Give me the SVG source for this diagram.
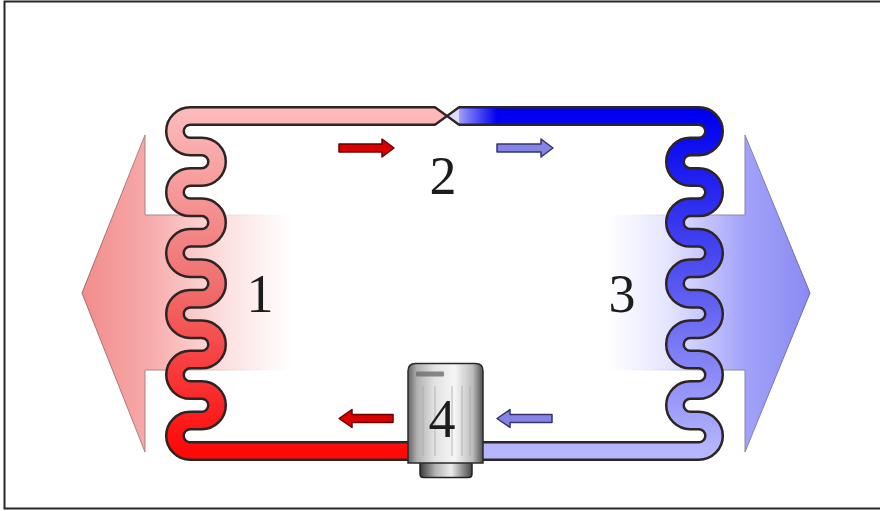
<svg xmlns="http://www.w3.org/2000/svg" width="880" height="511" viewBox="0 0 880 511">
  <defs>
    <!-- heat flow arrows -->
    <linearGradient id="heatOut" gradientUnits="userSpaceOnUse" x1="82" y1="0" x2="292" y2="0">
      <stop offset="0" stop-color="#f28c8c"/>
      <stop offset="0.3" stop-color="#f7a8a8"/>
      <stop offset="0.7" stop-color="#fde2e2"/>
      <stop offset="1" stop-color="#ffffff"/>
    </linearGradient>
    <linearGradient id="heatOutEdge" gradientUnits="userSpaceOnUse" x1="82" y1="0" x2="292" y2="0">
      <stop offset="0" stop-color="#a06a6a"/>
      <stop offset="0.45" stop-color="#b08f8f"/>
      <stop offset="1" stop-color="#ffffff" stop-opacity="0"/>
    </linearGradient>
    <linearGradient id="heatIn" gradientUnits="userSpaceOnUse" x1="608" y1="0" x2="810" y2="0">
      <stop offset="0" stop-color="#ffffff"/>
      <stop offset="0.3" stop-color="#e4e4ff"/>
      <stop offset="0.68" stop-color="#a2a2fa"/>
      <stop offset="1" stop-color="#8a8af2"/>
    </linearGradient>
    <linearGradient id="heatInEdge" gradientUnits="userSpaceOnUse" x1="608" y1="0" x2="810" y2="0">
      <stop offset="0" stop-color="#ffffff" stop-opacity="0"/>
      <stop offset="0.55" stop-color="#8f8fb0"/>
      <stop offset="1" stop-color="#6a6aa0"/>
    </linearGradient>
    <!-- refrigerant temperature along the pipes -->
    <linearGradient id="hotPipe" gradientUnits="userSpaceOnUse" x1="0" y1="116" x2="0" y2="451">
      <stop offset="0" stop-color="#fbb9b9"/>
      <stop offset="0.5" stop-color="#f07070"/>
      <stop offset="1" stop-color="#ff0808"/>
    </linearGradient>
    <linearGradient id="coldPipe" gradientUnits="userSpaceOnUse" x1="0" y1="116" x2="0" y2="451">
      <stop offset="0" stop-color="#0000f0"/>
      <stop offset="0.5" stop-color="#5656f0"/>
      <stop offset="1" stop-color="#b6b6ff"/>
    </linearGradient>
    <linearGradient id="valveOut" gradientUnits="userSpaceOnUse" x1="447" y1="0" x2="497" y2="0">
      <stop offset="0" stop-color="#dcdcff"/>
      <stop offset="0.4" stop-color="#7a7af6"/>
      <stop offset="1" stop-color="#0000f0"/>
    </linearGradient>
    <!-- compressor metal -->
    <linearGradient id="metal" x1="0" y1="0" x2="1" y2="0">
      <stop offset="0" stop-color="#626262"/>
      <stop offset="0.12" stop-color="#b0b0b0"/>
      <stop offset="0.35" stop-color="#e2e2e2"/>
      <stop offset="0.62" stop-color="#f6f6f6"/>
      <stop offset="0.86" stop-color="#bdbdbd"/>
      <stop offset="1" stop-color="#505050"/>
    </linearGradient>
    <linearGradient id="metalDark" x1="0" y1="0" x2="1" y2="0">
      <stop offset="0" stop-color="#3c3c3c"/>
      <stop offset="0.3" stop-color="#b4b4b4"/>
      <stop offset="0.6" stop-color="#ececec"/>
      <stop offset="1" stop-color="#444444"/>
    </linearGradient>
    <style>
      .edge { fill: none; stroke: #2e2424; stroke-width: 20; stroke-linejoin: round; }
      .hot { fill: none; stroke: url(#hotPipe); stroke-width: 15; stroke-linejoin: round; }
      .cold { fill: none; stroke: url(#coldPipe); stroke-width: 15; stroke-linejoin: round; }
      .flowHot { fill: #d80000; stroke: #6a0000; stroke-width: 1.5; stroke-linejoin: round; }
      .flowCold { fill: #8484e6; stroke: #34346a; stroke-width: 1.5; stroke-linejoin: round; }
      .num { font-family: "Liberation Serif", "DejaVu Serif", serif; font-size: 54px; fill: #1c1c1c; text-anchor: middle; }
    </style>
  </defs>

  <rect x="0" y="0" width="880" height="511" fill="#ffffff"/>
  <rect x="4.5" y="1.5" width="890" height="507" fill="none" stroke="#262626" stroke-width="2"/>

  <!-- heat released by the condenser -->
  <g id="heat-out">
    <polygon points="292,215 145,215 145,135 82,293 145,452 145,370 292,370" fill="url(#heatOut)" stroke="url(#heatOutEdge)" stroke-width="1"/>
  </g>
  <!-- heat absorbed by the evaporator -->
  <g id="heat-in">
    <polygon points="608,215 745,215 745,135 810,293 745,452 745,370 608,370" fill="url(#heatIn)" stroke="url(#heatInEdge)" stroke-width="1"/>
  </g>

  <!-- refrigerant circuit -->
  <g id="connectors">
    <!-- hot side: valve inlet, condenser coil, compressor outlet -->
    <path class="edge" d="M 436 116 H 190.2
      A 15.225 15.225 0 0 0 190.2 146.45 H 201.8
      A 15.225 15.225 0 0 1 201.8 176.9 H 190.2
      A 15.225 15.225 0 0 0 190.2 207.35 H 201.8
      A 15.225 15.225 0 0 1 201.8 237.8 H 190.2
      A 15.225 15.225 0 0 0 190.2 268.25 H 201.8
      A 15.225 15.225 0 0 1 201.8 298.7 H 190.2
      A 15.225 15.225 0 0 0 190.2 329.15 H 201.8
      A 15.225 15.225 0 0 1 201.8 359.6 H 190.2
      A 15.225 15.225 0 0 0 190.2 390.05 H 201.8
      A 15.225 15.225 0 0 1 201.8 420.5 H 190.2
      A 15.225 15.225 0 0 0 190.2 451 H 414"/>
    <path class="hot" d="M 436 116 H 190.2
      A 15.225 15.225 0 0 0 190.2 146.45 H 201.8
      A 15.225 15.225 0 0 1 201.8 176.9 H 190.2
      A 15.225 15.225 0 0 0 190.2 207.35 H 201.8
      A 15.225 15.225 0 0 1 201.8 237.8 H 190.2
      A 15.225 15.225 0 0 0 190.2 268.25 H 201.8
      A 15.225 15.225 0 0 1 201.8 298.7 H 190.2
      A 15.225 15.225 0 0 0 190.2 329.15 H 201.8
      A 15.225 15.225 0 0 1 201.8 359.6 H 190.2
      A 15.225 15.225 0 0 0 190.2 390.05 H 201.8
      A 15.225 15.225 0 0 1 201.8 420.5 H 190.2
      A 15.225 15.225 0 0 0 190.2 451 H 414"/>

    <!-- cold side: valve outlet, evaporator coil, compressor inlet -->
    <path class="edge" d="M 458 116 H 698.8
      A 15.225 15.225 0 0 1 698.8 146.45 H 690.2
      A 15.225 15.225 0 0 0 690.2 176.9 H 698.8
      A 15.225 15.225 0 0 1 698.8 207.35 H 690.2
      A 15.225 15.225 0 0 0 690.2 237.8 H 698.8
      A 15.225 15.225 0 0 1 698.8 268.25 H 690.2
      A 15.225 15.225 0 0 0 690.2 298.7 H 698.8
      A 15.225 15.225 0 0 1 698.8 329.15 H 690.2
      A 15.225 15.225 0 0 0 690.2 359.6 H 698.8
      A 15.225 15.225 0 0 1 698.8 390.05 H 690.2
      A 15.225 15.225 0 0 0 690.2 420.5 H 698.8
      A 15.225 15.225 0 0 1 698.8 451 H 478"/>
    <path class="cold" d="M 458 116 H 698.8
      A 15.225 15.225 0 0 1 698.8 146.45 H 690.2
      A 15.225 15.225 0 0 0 690.2 176.9 H 698.8
      A 15.225 15.225 0 0 1 698.8 207.35 H 690.2
      A 15.225 15.225 0 0 0 690.2 237.8 H 698.8
      A 15.225 15.225 0 0 1 698.8 268.25 H 690.2
      A 15.225 15.225 0 0 0 690.2 298.7 H 698.8
      A 15.225 15.225 0 0 1 698.8 329.15 H 690.2
      A 15.225 15.225 0 0 0 690.2 359.6 H 698.8
      A 15.225 15.225 0 0 1 698.8 390.05 H 690.2
      A 15.225 15.225 0 0 0 690.2 420.5 H 698.8
      A 15.225 15.225 0 0 1 698.8 451 H 478"/>
    <path d="M 457 116 H 500" fill="none" stroke="url(#valveOut)" stroke-width="15"/>

    <!-- flow direction -->
    <path class="flowHot" d="M339,144 H382 V139 L394,148 L382,157 V152 H339 Z"/>
    <path class="flowCold" d="M497,144 H541 V139 L553,148 L541,157 V152 H497 Z"/>
    <path class="flowHot" d="M393,414.5 H352 V409.5 L339,418.5 L352,427.5 V422.5 H393 Z"/>
    <path class="flowCold" d="M552,414.5 H510 V409.5 L497,418.5 L510,427.5 V422.5 H552 Z"/>
  </g>

  <!-- 1: condenser -->
  <g id="condenser">
    <text class="num" x="260" y="312">1</text>
  </g>

  <!-- 2: expansion valve (pipe throttle) -->
  <g id="expansion-valve">
    <polygon points="435,106 447,116 435,126" fill="#fbb9b9"/>
    <polygon points="459,106 447,116 459,126" fill="#dcdcff"/>
    <polyline points="435,107.2 447,116 435,124.8" fill="none" stroke="#2e2424" stroke-width="2.3"/>
    <polyline points="459,107.2 447,116 459,124.8" fill="none" stroke="#2e2424" stroke-width="2.3"/>
    <text class="num" x="443" y="194">2</text>
  </g>

  <!-- 3: evaporator -->
  <g id="evaporator">
    <text class="num" x="622" y="312">3</text>
  </g>

  <!-- 4: compressor -->
  <g id="compressor">
    <path d="M420,462 V474 Q420,477.5 423.5,477.5 H468.5 Q472,477.5 472,474 V462 Z" fill="url(#metalDark)" stroke="#222222" stroke-width="1.5"/>
    <path d="M408,463 V371 Q408,363.5 415.5,363.5 H475.5 Q483,363.5 483,371 V463 Z" fill="url(#metal)" stroke="#2a2a2a" stroke-width="1.5"/>
    <g stroke="#a8a8a8" stroke-width="1" opacity="0.8">
      <line x1="423" y1="386" x2="423" y2="456"/>
      <line x1="435" y1="386" x2="435" y2="456"/>
      <line x1="452" y1="386" x2="452" y2="456"/>
      <line x1="462" y1="386" x2="462" y2="456"/>
      <line x1="470" y1="386" x2="470" y2="456"/>
    </g>
    <rect x="416" y="371.5" width="28" height="5" rx="1" fill="#6e6e6e" opacity="0.8"/>
    <text class="num" x="442" y="437">4</text>
  </g>
</svg>
